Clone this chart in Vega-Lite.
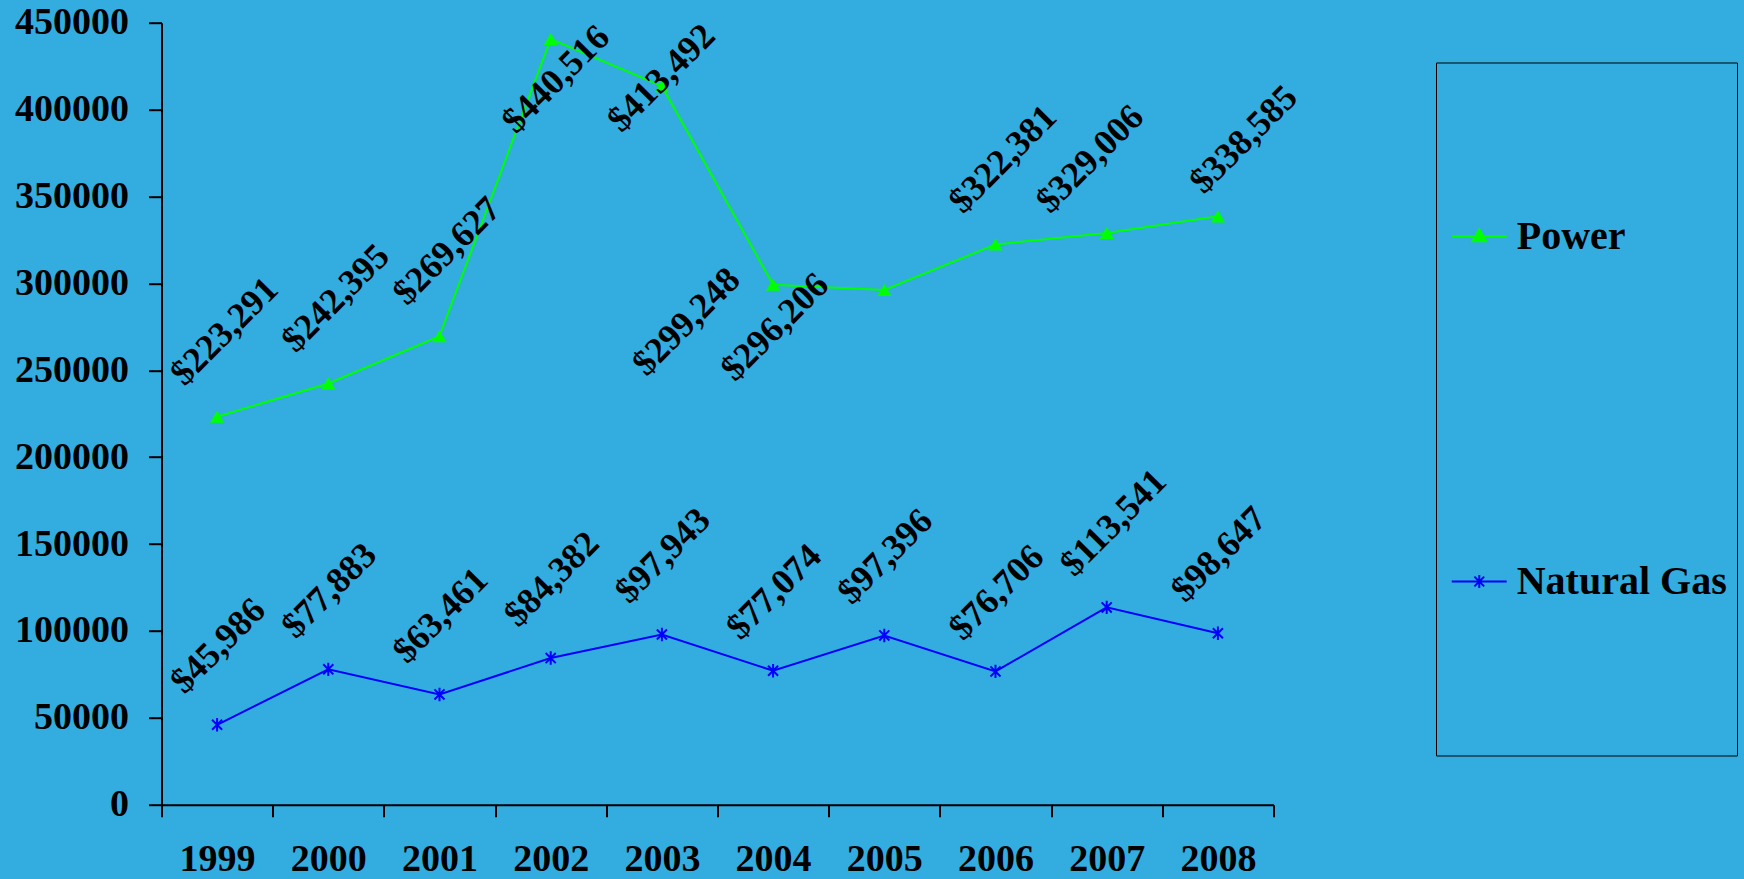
{
"$schema":"https://vega.github.io/schema/vega-lite/v6.json",
"width":1112,"height":782,
"autosize":{"type":"none"},
"padding":{"left":161.5,"top":22.7,"right":470.5,"bottom":74.3},
"background":"#33ade0",
"config":{"view":{"stroke":null},"font":"Liberation Serif"},
"data":{"values":[
{"year":1999,"series":"Power","value":223291},
{"year":2000,"series":"Power","value":242395},
{"year":2001,"series":"Power","value":269627},
{"year":2002,"series":"Power","value":440516},
{"year":2003,"series":"Power","value":413492},
{"year":2004,"series":"Power","value":299248},
{"year":2005,"series":"Power","value":296206},
{"year":2006,"series":"Power","value":322381},
{"year":2007,"series":"Power","value":329006},
{"year":2008,"series":"Power","value":338585},
{"year":1999,"series":"Natural Gas","value":45986},
{"year":2000,"series":"Natural Gas","value":77883},
{"year":2001,"series":"Natural Gas","value":63461},
{"year":2002,"series":"Natural Gas","value":84382},
{"year":2003,"series":"Natural Gas","value":97943},
{"year":2004,"series":"Natural Gas","value":77074},
{"year":2005,"series":"Natural Gas","value":97396},
{"year":2006,"series":"Natural Gas","value":76706},
{"year":2007,"series":"Natural Gas","value":113541},
{"year":2008,"series":"Natural Gas","value":98647}
]},
"encoding":{
 "x":{"field":"year","type":"ordinal","scale":{"type":"band","paddingInner":0,"paddingOuter":0},
  "axis":{"title":null,"labelAngle":0,"tickBand":"extent","labelFont":"Liberation Serif","labelFontWeight":"bold","labelFontSize":38,"labelColor":"#000000","labelPadding":24,"tickColor":"#000000","tickSize":12,"tickWidth":2,"domainColor":"#000000","domainWidth":2,"grid":false}},
 "y":{"field":"value","type":"quantitative","scale":{"domain":[0,450000],"nice":false,"zero":true},
  "axis":{"title":null,"values":[0,50000,100000,150000,200000,250000,300000,350000,400000,450000],"format":"d","labelFont":"Liberation Serif","labelFontWeight":"bold","labelFontSize":38,"labelColor":"#000000","labelPadding":20,"tickColor":"#000000","tickSize":13,"tickWidth":2,"domainColor":"#000000","domainWidth":2,"grid":false}}
},
"layer":[
 {"mark":{"type":"line","strokeWidth":2},
  "encoding":{"color":{"field":"series","type":"nominal","scale":{"domain":["Power","Natural Gas"],"range":["#00ff00","#0000ff"]},
   "legend":{"orient":"none","legendX":1274.5,"legendY":39.8,"direction":"vertical","title":null,"padding":10,"strokeColor":"#000000",
    "symbolSize":106276,"symbolStrokeWidth":2,"labelOffset":-257.3,"rowPadding":14,
    "labelFont":"Liberation Serif","labelFontWeight":"bold","labelFontSize":40,"labelColor":"#000000","labelLimit":400,
    "encode":{"symbols":{"update":{
      "shape":{"signal":"datum.value === 'Power' ? 'M-1,-1M-1,0.98M-0.971,0H-0.634M-0.802,-0.045L-0.845,0.029L-0.759,0.029Z' : 'M-1,-1M-1,0.98M-0.971,0H-0.634M-0.802,-0.04V0.04M-0.832,-0.03L-0.772,0.03M-0.832,0.03L-0.772,-0.03'"},
      "fill":{"signal":"datum.value === 'Power' ? '#00ff00' : 'transparent'"},
      "opacity":{"value":1}
    }}}}}}},
 {"transform":[{"filter":"datum.series === 'Power'"}],
  "mark":{"type":"point","filled":true,"shape":"triangle-up","size":200,"color":"#00ff00","opacity":1}},
 {"transform":[{"filter":"datum.series === 'Natural Gas'"}],
  "mark":{"type":"point","filled":false,"shape":"M0,-1V1M-0.75,-0.75L0.75,0.75M-0.75,0.75L0.75,-0.75","size":180,"strokeWidth":2,"color":"#0000ff","opacity":1}},
 {"transform":[{"filter":"datum.series === 'Natural Gas' || datum.year === 1999 || datum.year === 2000 || datum.year === 2001 || datum.year === 2006"}],
  "mark":{"type":"text","angle":315,"align":"left","baseline":"alphabetic","font":"Liberation Serif","fontWeight":"bold","fontSize":36,"color":"#000000","dx":-2,"dy":-44},
  "encoding":{"text":{"field":"value","type":"quantitative","format":"$,d"}}},
 {"transform":[{"filter":"datum.series === 'Power' && datum.year === 2002"}],
  "mark":{"type":"text","angle":315,"align":"left","baseline":"alphabetic","font":"Liberation Serif","fontWeight":"bold","fontSize":36,"color":"#000000","dx":-92,"dy":43},
  "encoding":{"text":{"field":"value","type":"quantitative","format":"$,d"}}},
 {"transform":[{"filter":"datum.series === 'Power' && datum.year === 2003"}],
  "mark":{"type":"text","angle":315,"align":"left","baseline":"alphabetic","font":"Liberation Serif","fontWeight":"bold","fontSize":36,"color":"#000000","dx":-62,"dy":5},
  "encoding":{"text":{"field":"value","type":"quantitative","format":"$,d"}}},
 {"transform":[{"filter":"datum.series === 'Power' && datum.year === 2004"}],
  "mark":{"type":"text","angle":315,"align":"left","baseline":"alphabetic","font":"Liberation Serif","fontWeight":"bold","fontSize":36,"color":"#000000","dx":-155,"dy":-24},
  "encoding":{"text":{"field":"value","type":"quantitative","format":"$,d"}}},
 {"transform":[{"filter":"datum.series === 'Power' && datum.year === 2005"}],
  "mark":{"type":"text","angle":315,"align":"left","baseline":"alphabetic","font":"Liberation Serif","fontWeight":"bold","fontSize":36,"color":"#000000","dx":-171,"dy":-40},
  "encoding":{"text":{"field":"value","type":"quantitative","format":"$,d"}}},
 {"transform":[{"filter":"datum.series === 'Power' && datum.year === 2007"}],
  "mark":{"type":"text","angle":315,"align":"left","baseline":"alphabetic","font":"Liberation Serif","fontWeight":"bold","fontSize":36,"color":"#000000","dx":-27,"dy":-53},
  "encoding":{"text":{"field":"value","type":"quantitative","format":"$,d"}}},
 {"transform":[{"filter":"datum.series === 'Power' && datum.year === 2008"}],
  "mark":{"type":"text","angle":315,"align":"left","baseline":"alphabetic","font":"Liberation Serif","fontWeight":"bold","fontSize":36,"color":"#000000","dx":5,"dy":-25},
  "encoding":{"text":{"field":"value","type":"quantitative","format":"$,d"}}}
]
}
